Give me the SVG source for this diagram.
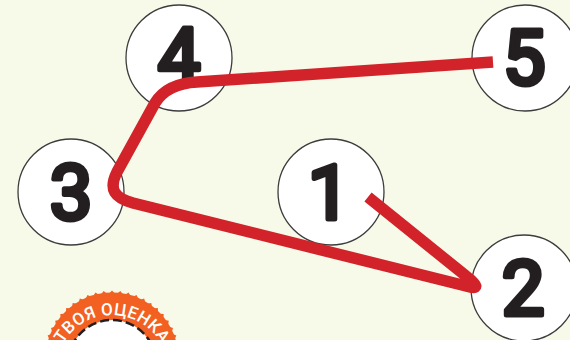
<svg xmlns="http://www.w3.org/2000/svg" xmlns:xlink="http://www.w3.org/1999/xlink" width="570" height="340" viewBox="0 0 570 340">
<style>
.c{fill:#fff;stroke:#3c3c3c;stroke-width:1.3}
.d{font-family:"Roboto","Liberation Sans",sans-serif;font-weight:400;font-size:76px;fill:#231f20;stroke:#231f20;stroke-width:5;stroke-linejoin:round;text-anchor:middle}
.t{fill:#f26122}
</style>
<defs><path id="tooth" d="M107.5 295 L112 290.5 L116.5 295Z"/></defs>
<rect width="570" height="340" fill="#f8fae9"/>
<g id="badge">
<circle class="t" cx="112" cy="359" r="66.5"/>
<g class="t">
<use xlink:href="#tooth"/>
<use xlink:href="#tooth" transform="rotate(7 112 359)"/><use xlink:href="#tooth" transform="rotate(14 112 359)"/><use xlink:href="#tooth" transform="rotate(21 112 359)"/><use xlink:href="#tooth" transform="rotate(28 112 359)"/><use xlink:href="#tooth" transform="rotate(35 112 359)"/><use xlink:href="#tooth" transform="rotate(42 112 359)"/><use xlink:href="#tooth" transform="rotate(49 112 359)"/><use xlink:href="#tooth" transform="rotate(56 112 359)"/><use xlink:href="#tooth" transform="rotate(63 112 359)"/><use xlink:href="#tooth" transform="rotate(70 112 359)"/><use xlink:href="#tooth" transform="rotate(77 112 359)"/>
<use xlink:href="#tooth" transform="rotate(-7 112 359)"/><use xlink:href="#tooth" transform="rotate(-14 112 359)"/><use xlink:href="#tooth" transform="rotate(-21 112 359)"/><use xlink:href="#tooth" transform="rotate(-28 112 359)"/><use xlink:href="#tooth" transform="rotate(-35 112 359)"/><use xlink:href="#tooth" transform="rotate(-42 112 359)"/><use xlink:href="#tooth" transform="rotate(-49 112 359)"/><use xlink:href="#tooth" transform="rotate(-56 112 359)"/><use xlink:href="#tooth" transform="rotate(-63 112 359)"/><use xlink:href="#tooth" transform="rotate(-70 112 359)"/><use xlink:href="#tooth" transform="rotate(-77 112 359)"/>
</g>
<circle cx="112" cy="364" r="44" fill="#fff" stroke="#231f20" stroke-width="2.5" stroke-dasharray="9 4"/>
<path id="arc" d="M56 371 A56 56 0 0 1 168 371" fill="none"/>
<text font-family="'Roboto','Liberation Sans',sans-serif" font-weight="500" font-size="17" letter-spacing="0.3" fill="#fff" text-anchor="middle"><textPath xlink:href="#arc" startOffset="50%">ТВОЯ ОЦЕНКА</textPath></text>
</g>
<g id="node4"><circle class="c" cx="179" cy="58" r="53"/><text class="d" x="179" y="82">4</text></g>
<g id="node5"><circle class="c" cx="525" cy="58" r="53"/><text class="d" x="524" y="84">5</text></g>
<g id="node3"><circle class="c" cx="71" cy="192" r="53"/><text class="d" x="71" y="219">3</text></g>
<g id="node1"><circle class="c" cx="331" cy="192" r="53"/><text class="d" x="329" y="219">1</text></g>
<g id="node2"><circle class="c" cx="524" cy="288" r="53"/><text class="d" x="523" y="315">2</text></g>
<g id="connectors"><path d="M368 197 L466 276 C478 285 480 290 466 286 L133 203 C115 198 108 190 117 172 L155 103 C163 90 178 83 197 82 L493 62" fill="none" stroke="#d2232a" stroke-width="11.5"/></g>
</svg>
